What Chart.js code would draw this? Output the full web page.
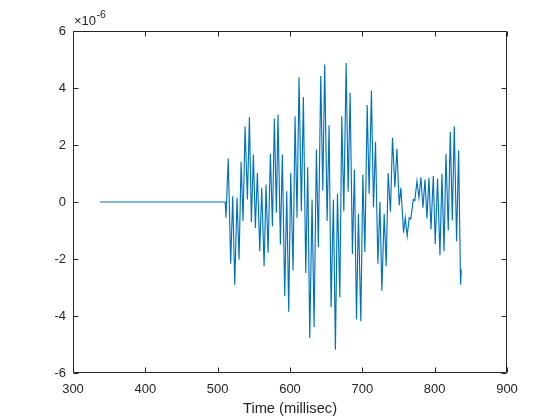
<!DOCTYPE html>
<html>
<head>
<meta charset="utf-8">
<script src="https://cdn.jsdelivr.net/npm/chart.js@4"></script>
<style>
html,body{margin:0;padding:0;background:#fff;}
#wrap{width:560px;height:420px;position:relative;}
</style>
</head>
<body>
<div id="wrap"><canvas id="c" width="560" height="420"></canvas></div>
<script>
// Data (values in units of 1e-6)
const timeMs = [337,510.5,511.5,514.6,518,520.8,523.6,526.8,529.6,532.4,535.1,537.9,541.1,543.9,546.6,549.4,552.1,554.9,558.2,560.9,564.2,566.9,569.7,572.9,575.7,578.4,581.2,583.4,586.7,589.4,592.7,595.5,598.2,601,604.2,607,609.7,612.5,615.7,618.5,621.8,624.5,627.3,630.5,633.3,636.5,639.2,642.5,645.3,648,651.3,654,656.8,660,662.8,665.6,668.9,671.6,674.4,677.6,680.4,683.1,686.3,689.1,691.9,694.6,697.9,700.7,703.5,706.7,709.4,712.6,715.4,718.2,721.5,724.3,727,730.2,733,735.7,738.9,741.7,745,747.8,751,753.3,757,759.3,762,764.8,767,770.4,772.5,775.5,778.3,781,783.8,786.6,789.3,792.1,794.9,798.1,800.8,804,807.3,810.1,812.9,815.6,818.8,821.6,824.4,827.1,830.3,833.1,835.8,836.8];
const signal = [0,0,-0.55,1.53,-2.17,0.2,-2.9,0.15,-2.02,1.41,-0.67,2.66,0.09,2.98,-0.71,1.67,-0.91,1.02,-1.73,0.5,-2.25,0.61,-1.78,1.69,-0.85,2.93,-0.38,3.07,-1.49,1.67,-3.30,0.38,-3.85,1.02,-2.40,3.01,-0.55,4.38,-0.32,3.68,-2.49,1.22,-4.77,0.09,-4.39,1.84,-1.59,4.42,0.40,4.82,-0.67,2.69,-3.69,0.09,-5.18,0.29,-3.34,3.01,-0.32,4.88,0.36,3.83,-1.82,1.14,-4.12,-0.41,-4.18,0.96,-1.75,3.40,0.29,3.91,-0.18,2.11,-2.17,0.01,-3.11,-0.41,-2.25,1.02,-0.34,2.25,0.52,1.87,-0.11,0.5,-1.08,-0.55,-1.2,-0.55,-0.6,0.09,0.05,0.73,0.15,0.87,-0.2,0.79,-0.58,0.85,-0.96,0.91,-1.47,0.82,-1.87,0.99,-1.73,1.69,-1.0,2.46,-0.65,2.66,-1.38,1.81,-2.9,-2.37];
const xTicks = [300,400,500,600,700,800,900];
const yTicks = [-6,-4,-2,0,2,4,6];
const yExponent = '-6';
const xLabel = 'Time (millisec)';

const axisColor = '#262626';
const FONT = '"Liberation Sans", Arial, Helvetica, sans-serif';

const boxPlugin = {
  id: 'matlabBox',
  afterDraw(chart) {
    const ctx = chart.ctx;
    const a = chart.chartArea;
    const xs = chart.scales.x, ys = chart.scales.y;
    const L = Math.round(a.left) + 0.5, R = Math.round(a.right) - 0.5;
    const T = Math.round(a.top) + 0.5, B = Math.round(a.bottom) - 0.5;
    ctx.save();
    ctx.strokeStyle = axisColor;
    ctx.lineWidth = 1;
    ctx.beginPath();
    ctx.rect(L, T, R - L, B - T);
    const tl = 5;
    xTicks.forEach(v => {
      const px = Math.round(xs.getPixelForValue(v)) + 0.5;
      ctx.moveTo(px, B); ctx.lineTo(px, B - tl);
      ctx.moveTo(px, T); ctx.lineTo(px, T + tl);
    });
    yTicks.forEach(v => {
      const py = Math.round(ys.getPixelForValue(v)) + 0.5;
      ctx.moveTo(L, py); ctx.lineTo(L + tl, py);
      ctx.moveTo(R, py); ctx.lineTo(R - tl, py);
    });
    ctx.stroke();
    ctx.fillStyle = axisColor;
    ctx.font = '14.7px ' + FONT;
    ctx.textAlign = 'center';
    ctx.textBaseline = 'middle';
    ctx.fillText(xLabel, (a.left + a.right) / 2, 409);
    ctx.textAlign = 'left';
    ctx.textBaseline = 'alphabetic';
    ctx.font = '13px ' + FONT;
    ctx.fillText('\u00d710', 74, 25);
    const w = ctx.measureText('\u00d710').width;
    ctx.font = '10.5px ' + FONT;
    ctx.fillText(yExponent, 74 + w + 0.5, 18);
    ctx.restore();
  }
};

new Chart(document.getElementById('c'), {
  type: 'line',
  data: {
    datasets: [{
      data: timeMs.map((t, i) => ({x: t, y: signal[i]})),
      borderColor: '#0072BD',
      borderWidth: 1.15,
      pointRadius: 0,
      tension: 0,
      fill: false
    }]
  },
  options: {
    responsive: false,
    animation: false,
    events: [],
    layout: {padding: {left: 0, top: 31, right: 53, bottom: 0}},
    plugins: {legend: {display: false}, tooltip: {enabled: false}},
    scales: {
      x: {
        type: 'linear', min: 300, max: 900,
        afterBuildTicks(s) { s.ticks = xTicks.map(v => ({value: v})); },
        afterFit(s) { s.height = 47; },
        grid: {display: false, drawTicks: false},
        border: {display: false},
        ticks: {color: axisColor, font: {family: FONT, size: 13}, padding: 9, maxRotation: 0, autoSkip: false}
      },
      y: {
        type: 'linear', min: -6, max: 6,
        afterBuildTicks(s) { s.ticks = yTicks.map(v => ({value: v})); },
        afterFit(s) { s.width = 73; },
        grid: {display: false, drawTicks: false},
        border: {display: false},
        ticks: {color: axisColor, font: {family: FONT, size: 13}, padding: 7, autoSkip: false}
      }
    }
  },
  plugins: [boxPlugin]
});
</script>
</body>
</html>
